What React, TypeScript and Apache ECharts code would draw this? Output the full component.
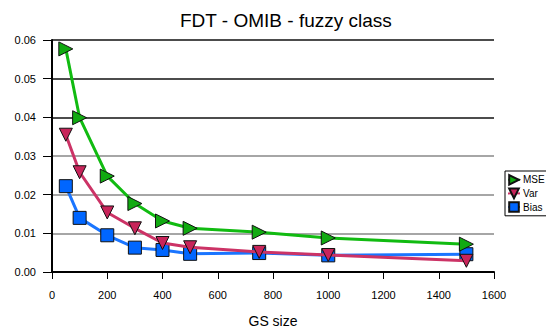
import React, { useEffect, useRef } from "react";
import * as echarts from "echarts";

const gsSize = [50, 100, 200, 300, 400, 500, 750, 1000, 1500];
const mse = [0.0577, 0.0399, 0.0248, 0.0177, 0.0132, 0.0113, 0.0103, 0.0088, 0.0072];
const variance = [0.0355, 0.0258, 0.0154, 0.0113, 0.0075, 0.0064, 0.0052, 0.0044, 0.0029];
const bias = [0.0222, 0.014, 0.0095, 0.0063, 0.0057, 0.0047, 0.0049, 0.0043, 0.0046];

const FONT = "Liberation Sans";

export default function App() {
  const ref = useRef<HTMLDivElement>(null);
  useEffect(() => {
    if (!ref.current) return;
    const chart = echarts.init(ref.current, undefined, { renderer: "svg" });
    const pair = (arr: number[]) => gsSize.map((x, i) => [x, arr[i]]);
    chart.setOption({
      animation: false,
      backgroundColor: "#fff",
      textStyle: { fontFamily: FONT },
      title: {
        text: "FDT - OMIB - fuzzy class",
        left: 175,
        top: 6,
        textStyle: { fontFamily: FONT, fontSize: 19, fontWeight: "normal", color: "#000" },
      },
      legend: {
        orient: "vertical",
        left: 505,
        top: 171,
        width: 40,
        backgroundColor: "#fff",
        borderColor: "#000",
        borderWidth: 1,
        borderRadius: 0,
        padding: [3, 4, 3, 2],
        itemWidth: 12,
        itemHeight: 12,
        itemGap: 2,
        data: ["MSE", "Var", "Bias"],
        textStyle: { fontFamily: FONT, fontSize: 10, color: "#000", padding: [0, 0, 0, -2] },
      },
      grid: { left: 52, right: 52, top: 40, bottom: 60 },
      xAxis: {
        type: "value",
        min: 0,
        max: 1600,
        interval: 200,
        name: "GS size",
        nameLocation: "middle",
        nameGap: 42,
        nameTextStyle: { fontFamily: FONT, fontSize: 14, color: "#000" },
        axisLine: { show: true, onZero: false, lineStyle: { color: "#000", width: 2 } },
        axisTick: { show: true, length: 7, lineStyle: { color: "#000", width: 1 } },
        axisLabel: {
          fontFamily: FONT,
          fontSize: 11,
          color: "#000",
          margin: 17,
          formatter: (v: number) => String(v),
        },
        splitLine: { show: false },
      },
      yAxis: {
        type: "value",
        min: 0,
        max: 0.06,
        interval: 0.01,
        axisLine: { show: true, lineStyle: { color: "#000", width: 2 } },
        axisTick: { show: true, length: 9, lineStyle: { color: "#000", width: 1 } },
        axisLabel: {
          fontFamily: FONT,
          fontSize: 11,
          color: "#000",
          margin: 16,
          formatter: (v: number) => v.toFixed(2),
        },
        splitLine: {
          show: true,
          lineStyle: {
            color: ["#000", "#888", "#888", "#888", "#111", "#111", "#111"],
            width: 1.5,
          },
        },
      },
      series: [
        {
          name: "Bias",
          type: "line",
          data: pair(bias),
          symbol: "rect",
          symbolSize: 13,
          lineStyle: { color: "#1a75ff", width: 3 },
          itemStyle: { color: "#0066ff", borderColor: "#111", borderWidth: 1 },
          z: 2,
        },
        {
          name: "Var",
          type: "line",
          data: pair(variance),
          symbol: "triangle",
          symbolRotate: 180,
          symbolSize: 13,
          lineStyle: { color: "#cc3366", width: 3 },
          itemStyle: { color: "#c8245a", borderColor: "#111", borderWidth: 1 },
          z: 3,
        },
        {
          name: "MSE",
          type: "line",
          data: pair(mse),
          symbol: "triangle",
          symbolRotate: -90,
          symbolSize: 14,
          lineStyle: { color: "#11bb11", width: 3 },
          itemStyle: { color: "#11aa11", borderColor: "#111", borderWidth: 1 },
          z: 4,
        },
      ],
    });
    return () => chart.dispose();
  }, []);
  return <div ref={ref} style={{ width: 546, height: 333, position: "absolute", left: 0, top: 0 }} />;
}
